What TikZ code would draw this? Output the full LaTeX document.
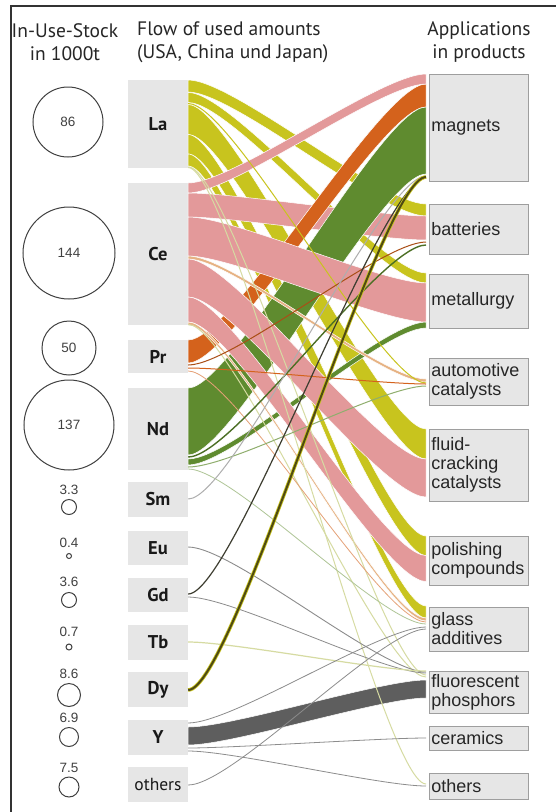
\documentclass[tikz,border=0pt]{standalone}
\usepackage{fontspec}
\setmainfont{Liberation Sans}
\newfontfamily\myriadlike{PT Sans}
\usetikzlibrary{calc}

\definecolor{laY}{HTML}{C8C41E}
\definecolor{ceP}{HTML}{E3999A}
\definecolor{prO}{HTML}{D4621C}
\definecolor{ndG}{HTML}{5F8B2F}
\definecolor{yGr}{HTML}{5E5E5E}
\definecolor{boxF}{HTML}{E6E6E6}
\definecolor{boxL}{HTML}{9E9E9E}
\definecolor{tanC}{HTML}{E6B283}
\definecolor{grayL}{HTML}{8C8C8C}
\definecolor{darkL}{HTML}{3D3D30}
\definecolor{paleL}{HTML}{D6DBA2}
\definecolor{dyD}{HTML}{4F4A12}
\definecolor{frameC}{HTML}{333333}

% horizontal length of the bezier handles at both ends of a flow
\newcommand\flowbend{45}

% \band{colour}{source}{y1}{y2}{target}{y1}{y2}: a filled Sankey band
\newcommand\band[7]{%
  \coordinate (p1) at (#2.east |- 0,#3);
  \coordinate (p2) at (#2.east |- 0,#4);
  \coordinate (q1) at ($(#5.west |- 0,#6)+(-3,0)$);
  \coordinate (q2) at ($(#5.west |- 0,#7)+(-3,0)$);
  \fill[#1, flowedge] (p1) .. controls ($(p1)+(\flowbend,0)$) and ($(q1)-(\flowbend,0)$) .. (q1)
    -- (q2) .. controls ($(q2)-(\flowbend,0)$) and ($(p2)+(\flowbend,0)$) .. (p2) -- cycle;}

% \strand{colour}{width}{source}{y}{target}{y}: a thin flow line
\newcommand\strand[6]{%
  \coordinate (p1) at (#3.east |- 0,#4);
  \coordinate (q1) at ($(#5.west |- 0,#6)+(-3,0)$);
  \draw[#1, line width=#2] (p1) .. controls ($(p1)+(\flowbend,0)$) and ($(q1)-(\flowbend,0)$) .. (q1);}

\begin{document}
\begin{tikzpicture}[x=1pt,y=-1pt,
  elem/.style={fill=boxF, minimum width=60, inner sep=0pt,
    font=\myriadlike\bfseries\fontsize{18.5}{18.5}\selectfont, text=black!90},
  appbox/.style={draw=boxL, line width=0.8pt, fill=boxF, text width=95pt,
    inner xsep=2pt, inner ysep=0pt, align=left, anchor=west,
    font=\fontsize{18}{19}\selectfont, text=black!85},
  headtxt/.style={font=\myriadlike\fontsize{19.5}{23}\selectfont, text=black!85, inner sep=0pt},
  stock/.style={circle, draw=black!75, line width=1pt, inner sep=0pt},
  stocknum/.style={font=\fontsize{13.5}{13.5}\selectfont, text=black!75, inner sep=0pt},
  flowedge/.style={draw=white, line width=0.5pt},
]
\useasboundingbox (0,0) rectangle (556,812);
\fill[white] (0,0) rectangle (556,812);

% frame on top and left
\draw[frameC, line width=1.5pt] (11,812) -- (11,6) -- (556,6);

% column headings
\node[headtxt, align=center] (hStock) at (65,42) {In-Use-Stock\\in 1000t};
\node[headtxt, align=left, anchor=west] (hFlow) at (137,42) {Flow of used amounts\\(USA, China und Japan)};
\node[headtxt, align=center] (hApp) at (479,42) {Applications\\in products};

% in-use stock circles
\node[stock, stocknum, minimum size=70] (sLa) at (68,122) {86};
\node[stock, stocknum, minimum size=92] (sCe) at (69,253) {144};
\node[stock, stocknum, minimum size=54] (sPr) at (69,348) {50};
\node[stock, stocknum, minimum size=90] (sNd) at (69,425) {137};
\node[stocknum] (nSm) at (69,490) {3.3};
\node[stock, minimum size=15] (sSm) at (69,507) {};
\node[stocknum] (nEu) at (69,543) {0.4};
\node[stock, minimum size=5] (sEu) at (69,556) {};
\node[stocknum] (nGd) at (69,582) {3.6};
\node[stock, minimum size=15] (sGd) at (69,600) {};
\node[stocknum] (nTb) at (69,632) {0.7};
\node[stock, minimum size=6] (sTb) at (69,647) {};
\node[stocknum] (nDy) at (69,674) {8.6};
\node[stock, minimum size=23] (sDy) at (69,695) {};
\node[stocknum] (nY) at (69,718) {6.9};
\node[stock, minimum size=19] (sY) at (69,737) {};
\node[stocknum] (nOth) at (69,768) {7.5};
\node[stock, minimum size=20] (sOth) at (69,787) {};

% elements
\node[elem, minimum height=88] (La) at (158,124) {La};
\node[elem, minimum height=142] (Ce) at (158,254) {Ce};
\node[elem, minimum height=33] (Pr) at (158,356.5) {Pr};
\node[elem, minimum height=82] (Nd) at (158,429) {Nd};
\node[elem, minimum height=35] (Sm) at (158,499.5) {Sm};
\node[elem, minimum height=34] (Eu) at (158,548) {Eu};
\node[elem, minimum height=34] (Gd) at (158,595) {Gd};
\node[elem, minimum height=35] (Tb) at (158,642.5) {Tb};
\node[elem, minimum height=35] (Dy) at (158,689.5) {Dy};
\node[elem, minimum height=35] (Yt) at (158,737.5) {Y};
\node[elem, minimum height=35, font=\myriadlike\fontsize{17.5}{17.5}\selectfont] (Oth) at (158,784.5) {others};

% applications
\node[appbox, minimum height=107] (mag) at (429,127.5) {magnets};
\node[appbox, minimum height=50] (bat) at (429,229) {batteries};
\node[appbox, minimum height=54] (met) at (429,301) {metallurgy};
\node[appbox, minimum height=47] (aut) at (429,381.5) {automotive\\catalysts};
\node[appbox, minimum height=72] (fcc) at (429,465) {fluid-\\cracking\\catalysts};
\node[appbox, minimum height=49] (pol) at (429,560.5) {polishing\\compounds};
\node[appbox, minimum height=44] (gla) at (429,629) {glass\\additives};
\node[appbox, minimum height=42] (flu) at (429,692) {fluorescent\\phosphors};
\node[appbox, minimum height=24] (cer) at (429,738) {ceramics};
\node[appbox, minimum height=26] (oap) at (429,786) {others};

% lanthanum
\band{laY}{La}{80}{92}{bat}{204}{216}
\band{laY}{La}{92.5}{102.5}{met}{273}{283}
\band{laY}{La}{104.5}{134.5}{fcc}{429}{459}
\band{laY}{La}{134.5}{154}{pol}{536}{555.5}
\band{laY}{La}{154}{166}{gla}{606}{618}
% cerium into batteries lies below the magnet flows
\band{ceP}{Ce}{193}{217}{bat}{216}{240}
% praseodymium and neodymium
\band{prO}{Pr}{340}{363}{mag}{84}{107}
\band{ndG}{Nd}{388}{455}{mag}{107}{174}
\band{ndG}{Nd}{459}{465}{met}{322}{328}
% cerium
\band{ceP}{Ce}{183}{193}{mag}{74}{84}
\band{ceP}{Ce}{217}{256}{met}{283}{322}
\band{tanC}{Ce}{256}{259}{aut}{379}{382}
\band{ceP}{Ce}{259}{297}{fcc}{459}{497}
\band{ceP}{Ce}{297}{322}{pol}{555.5}{581.5}
\band{tanC}{Ce}{322}{325}{gla}{618}{621}
% yttrium
\band{yGr}{Yt}{727}{745}{flu}{680}{698}

% thin flows
\strand{laY}{1pt}{La}{103.5}{aut}{383}
\strand{paleL}{1pt}{La}{167}{flu}{675}
\strand{paleL}{1pt}{La}{167.5}{oap}{784}
\strand{paleL}{1pt}{Ce}{324.5}{flu}{677}
\strand{prO!80!black}{1pt}{Pr}{365}{bat}{242}
\strand{prO}{1pt}{Pr}{368}{aut}{384}
\strand{prO!60}{0.8pt}{Pr}{371}{gla}{622}
\strand{ndG!80!black}{1.4pt}{Nd}{457}{bat}{245}
\strand{ndG!70}{1pt}{Nd}{467}{aut}{386}
\strand{ndG!50}{0.8pt}{Nd}{469}{gla}{624}
\strand{grayL!70}{1pt}{Sm}{499}{mag}{176}
\strand{grayL}{0.9pt}{Eu}{547}{flu}{672}
\strand{darkL}{1.2pt}{Gd}{594}{mag}{178}
\strand{grayL}{0.8pt}{Gd}{597}{flu}{673}
\strand{paleL}{1.2pt}{Tb}{642}{flu}{671}
\strand{grayL}{0.8pt}{Yt}{723}{gla}{627}
\strand{grayL}{0.8pt}{Yt}{748}{cer}{738}
\strand{grayL}{0.8pt}{Yt}{751}{oap}{786}
\strand{grayL}{0.8pt}{Oth}{785}{gla}{629}
% dysprosium on top
\strand{laY}{3.6pt}{Dy}{690}{mag}{177}
\strand{dyD}{2pt}{Dy}{690}{mag}{177}
\end{tikzpicture}
\end{document}
